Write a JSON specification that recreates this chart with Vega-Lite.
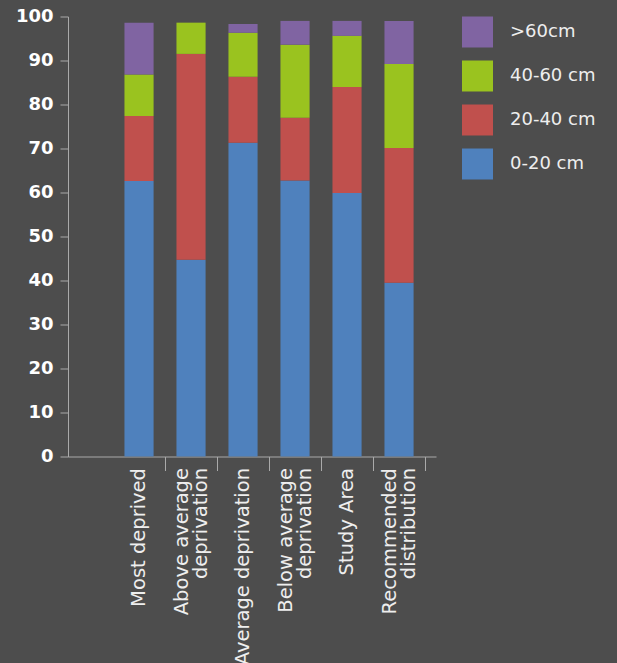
{
  "$schema": "https://vega.github.io/schema/vega-lite/v6.json",
  "autosize": "none",
  "padding": {"left": 68, "top": 16.5, "right": 181, "bottom": 206.5},
  "width": 368,
  "height": 440,
  "background": "#4d4d4d",
  "data": {
    "values": [
      {"area": "Most deprived", "size": "0-20 cm", "k": 1, "pct": 62.6},
      {"area": "Most deprived", "size": "20-40 cm", "k": 2, "pct": 14.8},
      {"area": "Most deprived", "size": "40-60 cm", "k": 3, "pct": 9.4},
      {"area": "Most deprived", "size": ">60cm", "k": 4, "pct": 11.8},
      {"area": "Above average|deprivation", "size": "0-20 cm", "k": 1, "pct": 44.7},
      {"area": "Above average|deprivation", "size": "20-40 cm", "k": 2, "pct": 46.8},
      {"area": "Above average|deprivation", "size": "40-60 cm", "k": 3, "pct": 7.1},
      {"area": "Above average|deprivation", "size": ">60cm", "k": 4, "pct": 0},
      {"area": "Average deprivation", "size": "0-20 cm", "k": 1, "pct": 71.3},
      {"area": "Average deprivation", "size": "20-40 cm", "k": 2, "pct": 15.0},
      {"area": "Average deprivation", "size": "40-60 cm", "k": 3, "pct": 10.0},
      {"area": "Average deprivation", "size": ">60cm", "k": 4, "pct": 2.0},
      {"area": "Below average|deprivation", "size": "0-20 cm", "k": 1, "pct": 62.7},
      {"area": "Below average|deprivation", "size": "20-40 cm", "k": 2, "pct": 14.3},
      {"area": "Below average|deprivation", "size": "40-60 cm", "k": 3, "pct": 16.6},
      {"area": "Below average|deprivation", "size": ">60cm", "k": 4, "pct": 5.4},
      {"area": "Study Area", "size": "0-20 cm", "k": 1, "pct": 59.9},
      {"area": "Study Area", "size": "20-40 cm", "k": 2, "pct": 24.1},
      {"area": "Study Area", "size": "40-60 cm", "k": 3, "pct": 11.6},
      {"area": "Study Area", "size": ">60cm", "k": 4, "pct": 3.4},
      {"area": "Recommended|distribution", "size": "0-20 cm", "k": 1, "pct": 39.5},
      {"area": "Recommended|distribution", "size": "20-40 cm", "k": 2, "pct": 30.6},
      {"area": "Recommended|distribution", "size": "40-60 cm", "k": 3, "pct": 19.1},
      {"area": "Recommended|distribution", "size": ">60cm", "k": 4, "pct": 9.8}
    ]
  },
  "mark": {"type": "bar", "width": {"band": 0.56}},
  "encoding": {
    "x": {
      "field": "area",
      "type": "nominal",
      "sort": null,
      "scale": {"paddingInner": 0, "paddingOuter": 0.5385, "align": 0.804},
      "axis": {
        "title": null,
        "bandPosition": 1,
        "labelAngle": -90,
        "labelAlign": "right",
        "labelBaseline": "middle",
        "labelExpr": "split(datum.label, '|')",
        "labelOffset": {"condition": {"test": "indexof(datum.value, '|') >= 0", "value": -9.5}, "value": 0},
        "labelFont": "DejaVu Sans",
        "labelFontSize": 19.5,
        "labelLineHeight": 19,
        "labelColor": "#eeeeee",
        "labelPadding": -3,
        "labelOverlap": false,
        "labelLimit": 300,
        "tickSize": 14,
        "tickColor": "#aaaaaa",
        "domainColor": "#aaaaaa",
        "tickWidth": 1,
        "domainWidth": 1
      }
    },
    "y": {
      "field": "pct",
      "type": "quantitative",
      "stack": "zero",
      "scale": {"domain": [0, 100], "nice": false},
      "axis": {
        "title": null,
        "values": [0, 10, 20, 30, 40, 50, 60, 70, 80, 90, 100],
        "grid": false,
        "labelFont": "DejaVu Sans",
        "labelFontWeight": "bold",
        "labelFontSize": 18,
        "labelColor": "#ffffff",
        "labelPadding": 7,
        "tickSize": 8,
        "tickColor": "#aaaaaa",
        "domainColor": "#aaaaaa"
      }
    },
    "color": {
      "field": "size",
      "type": "nominal",
      "scale": {
        "domain": [">60cm", "40-60 cm", "20-40 cm", "0-20 cm"],
        "range": ["#8064a2", "#9ac31f", "#c0504d", "#4f81bd"]
      },
      "legend": {
        "title": null,
        "orient": "right",
        "offset": 26,
        "padding": 0,
        "symbolType": "square",
        "symbolSize": 961,
        "symbolStrokeWidth": 0,
        "symbolOpacity": 1,
        "rowPadding": 13,
        "labelOffset": 17,
        "labelFont": "DejaVu Sans",
        "labelFontSize": 18,
        "labelColor": "#eeeeee"
      }
    },
    "order": {"field": "k", "type": "quantitative"}
  },
  "config": {"view": {"stroke": null}}
}
